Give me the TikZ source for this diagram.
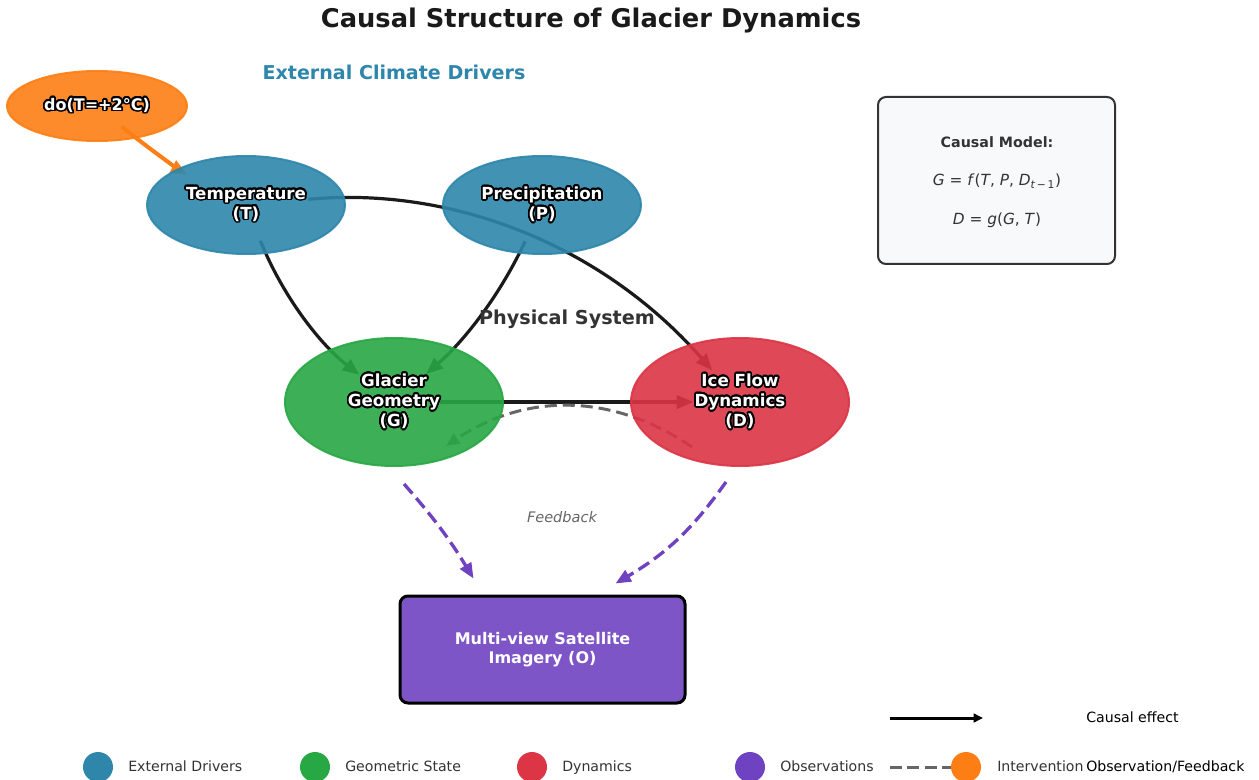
\documentclass[tikz,border=0pt]{standalone}
\usepackage{fontspec}
\setmainfont{DejaVu Sans}
\usepackage[copies]{contour}
\usetikzlibrary{shapes.geometric,arrows.meta,backgrounds,calc}

\contourlength{1.25pt}
\contournumber{24}

\definecolor{drvblue}{HTML}{2E86AB}
\definecolor{geogreen}{HTML}{28A745}
\definecolor{dynred}{HTML}{DC3545}
\definecolor{obspurple}{HTML}{6F42C1}
\definecolor{intorange}{HTML}{FD7E14}
\definecolor{darktxt}{HTML}{333333}
\definecolor{fbgray}{HTML}{666666}
\definecolor{modelbg}{HTML}{F8F9FA}
\definecolor{arrowblk}{HTML}{1A1A1A}

\newcommand{\outl}[1]{\contour{black}{#1}}

\tikzset{
  var/.style={ellipse, draw=#1, fill=#1, fill opacity=0.9, draw opacity=0.9, text opacity=1,
    line width=1.5pt, inner sep=0pt, text=white, align=center,
    font=\fontsize{12.5}{15}\selectfont\bfseries},
  causal/.style={arrowblk, line width=2.4pt, -{Triangle[length=12.5pt,width=10pt]}},
  feedback/.style={fbgray, line width=2.25pt, dash pattern=on 9pt off 4.5pt, -{Triangle[length=10pt,width=8.5pt]}},
  observe/.style={obspurple, line width=2.5pt, dash pattern=on 9.5pt off 4.5pt, -{Triangle[length=11.5pt,width=9.5pt]}},
  legdot/.style={circle, inner sep=0pt, minimum size=22.5pt},
  legtxt/.style={anchor=west, inner xsep=0pt, text height=1.6ex, text depth=0.4ex, text=darktxt, font=\fontsize{10.6}{13}\selectfont},
}

\begin{document}
\begin{tikzpicture}[x=0.75pt,y=0.75pt,yscale=-1,xscale=1]
\useasboundingbox (0,0) rectangle (1259,780);

% Title
\node[font=\fontsize{19.3}{23}\selectfont\bfseries, text=arrowblk] (title) at (591,21) {Causal Structure of Glacier Dynamics};
% Text Node
\node[font=\fontsize{14.3}{17}\selectfont\bfseries, text=drvblue] (drvlab) at (394,72) {External Climate Drivers};
% Text Node
\node[font=\fontsize{14.4}{17}\selectfont\bfseries, text=darktxt] (physlab) at (567,319) {Physical System};
% Text Node
\node[font=\fontsize{10.9}{13}\selectfont\itshape, text=fbgray] (fblab) at (562,517) {Feedback};

%Shape: Ellipse
\node[var=intorange, minimum width=135pt, minimum height=52.5pt, font=\fontsize{12}{14}\selectfont\bfseries] (I) at (97,106) {\outl{do(T=+2°C)}};
%Shape: Ellipse
\node[var=drvblue, minimum width=148.5pt, minimum height=73.5pt] (T) at (246,205) {\outl{Temperature}\\\outl{(T)}};
%Shape: Ellipse
\node[var=drvblue, minimum width=148.5pt, minimum height=73.5pt] (P) at (542,205) {\outl{Precipitation}\\\outl{(P)}};
%Shape: Ellipse
\node[var=geogreen, minimum width=163.5pt, minimum height=96pt] (G) at (394,402) {\outl{Glacier}\\\outl{Geometry}\\\outl{(G)}};
%Shape: Ellipse
\node[var=dynred, minimum width=163.5pt, minimum height=96pt] (D) at (740,402) {\outl{Ice Flow}\\\outl{Dynamics}\\\outl{(D)}};

%Shape: Rectangle
\node[draw=black, fill=obspurple, fill opacity=0.9, text opacity=1, line width=2.25pt, rounded corners=6pt,
  minimum width=213.75pt, minimum height=80.25pt, text=white, align=center,
  font=\fontsize{12}{14.25}\selectfont\bfseries] (O) at (542.5,649.5) {Multi-view Satellite\\Imagery (O)};

%Shape: Rectangle
\node[draw=darktxt, fill=modelbg, line width=1.5pt, rounded corners=6pt,
  minimum width=177.75pt, minimum height=125.25pt] (M) at (996.5,180.5) {};
% Text Node
\node[text=darktxt, font=\fontsize{10.7}{13}\selectfont\bfseries] (Mhead) at (997,142) {Causal Model:};
% Text Node
\node[text=darktxt, font=\fontsize{11.5}{14}\selectfont] (Meq1) at (997,181) {\textit{G} = \textit{f}(\textit{T}, \textit{P}, \textit{D}\textsubscript{\textit{t}\,−\,1})};
% Text Node
\node[text=darktxt, font=\fontsize{11.5}{14}\selectfont] (Meq2) at (997,220) {\textit{D} = \textit{g}(\textit{G}, \textit{T})};

% Arrows under the nodes
\begin{scope}[on background layer]
\draw[causal, shorten <=29pt, shorten >=33pt] (T.center) to[bend left=15] (G.center);
\draw[causal, shorten <=30pt, shorten >=32pt] (P.center) to[bend right=12] (G.center);
\draw[causal, shorten <=47pt, shorten >=31.5pt] (T.center) to[bend right=27] (D.center);
\draw[causal, shorten <=34.5pt, shorten >=35pt] (G.center) -- (D.center);
\draw[feedback] ($(D)+(-48,45)$) to[bend left=34] ($(G)+(52,44)$);
\draw[intorange, line width=3pt, -{Triangle[length=12pt,width=10pt]}, shorten <=24pt, shorten >=50pt] (I.center) to[bend left=6] (T.center);
\end{scope}

\draw[observe] ($(G.south)+(10,17)$) to[bend right=5] ($(O.north)+(-69,-16)$);
\draw[observe] ($(D.south)+(-14,15)$) to[bend right=12] ($(O.north)+(73,-11)$);

% Legend
\coordinate (la) at (890,718);
\coordinate (lb) at (983,718);
\draw[black, line width=2.25pt, -{Triangle[length=7pt,width=6.5pt]}] (la) -- (lb);
\node[legtxt, text=black] (lcausal) at (1086,718) {Causal effect};

\node[legdot, fill=drvblue] (L1) at (98,767) {};
\node[legtxt] (L1t) at (128,767) {External Drivers};
\node[legdot, fill=geogreen] (L2) at (315,767) {};
\node[legtxt] (L2t) at (345,767) {Geometric State};
\node[legdot, fill=dynred] (L3) at (532,767) {};
\node[legtxt] (L3t) at (562,767) {Dynamics};
\node[legdot, fill=obspurple] (L4) at (750,767) {};
\node[legtxt] (L4t) at (780,767) {Observations};
\node[legdot, fill=intorange] (L5) at (966,767) {};
\node[legtxt] (L5t) at (997,767) {Intervention};
\node[legtxt, text=black] (L6t) at (1086,767) {Observation/Feedback};
\coordinate (ld) at (890,767);
\begin{scope}[on background layer]
\draw[fbgray, line width=2.25pt, dash pattern=on 9pt off 4pt] (ld) -- (L5);
\end{scope}

\end{tikzpicture}
\end{document}
